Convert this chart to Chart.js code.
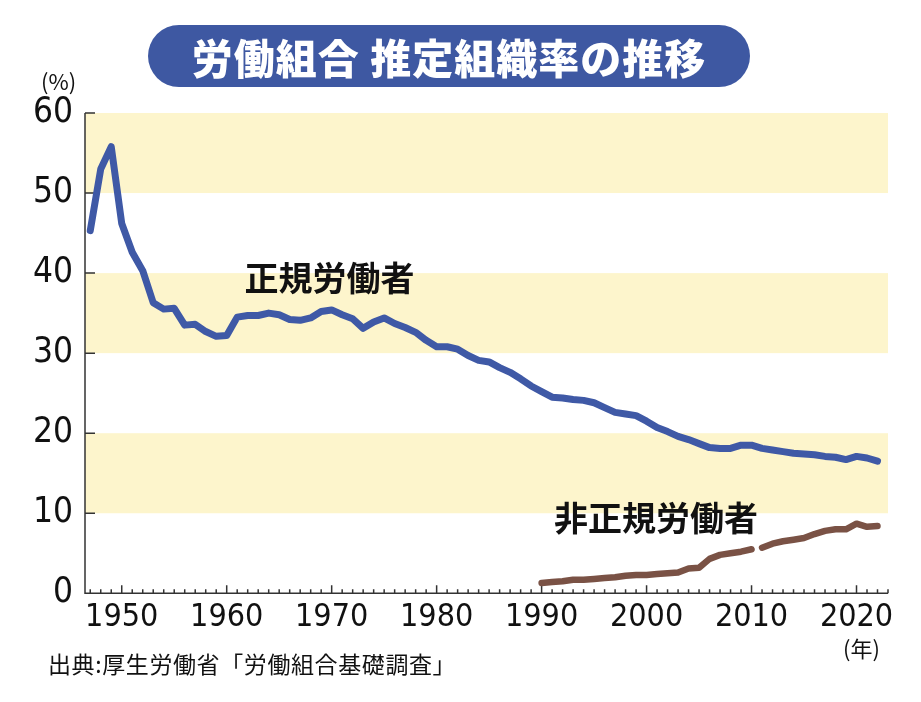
<!DOCTYPE html>
<html lang="ja">
<head>
<meta charset="utf-8">
<script src="https://cdn.jsdelivr.net/npm/chart.js@4/dist/chart.umd.min.js"></script>
<style>
  html, body { margin: 0; padding: 0; background: #fff; }
  #wrap { position: relative; width: 921px; height: 702px; overflow: hidden; }
  #title {
    position: absolute; left: 148px; top: 25px; width: 602px; height: 62px;
    border-radius: 31px; background: #3e58a2; color: #fff;
    font: 900 41px "Noto Sans CJK JP", sans-serif; line-height: 62px; text-align: center;
    letter-spacing: 1px;
  }
  .note { position: absolute; color: #111; font-family: "Noto Sans CJK JP", sans-serif; }
  #pct { left: 41px; top: 64px; font-size: 22px; }
  #nen { left: 843px; top: 631px; font-size: 22px; }
  #src { left: 48px; top: 646px; font-size: 23px; letter-spacing: 0.6px; }
</style>
</head>
<body>
<div id="wrap">
  <canvas id="chart" width="921" height="702"></canvas>
  <div id="title">労働組合 推定組織率の推移</div>
  <div class="note" id="pct">(%)</div>
  <div class="note" id="nen">(年)</div>
  <div class="note" id="src">出典:厚生労働省「労働組合基礎調査」</div>
</div>
<script>
// 正規労働者 (all workers) 1947-2022
const regularYears = [];
for (let y = 1947; y <= 2022; y++) regularYears.push(y);
const regularRate = [
  45.3, 53.0, 55.8, 46.2, 42.6, 40.3, 36.3, 35.5, 35.6, 33.5,
  33.6, 32.7, 32.1, 32.2, 34.5, 34.7, 34.7, 35.0, 34.8, 34.2,
  34.1, 34.4, 35.2, 35.4, 34.8, 34.3, 33.1, 33.9, 34.4, 33.7,
  33.2, 32.6, 31.6, 30.8, 30.8, 30.5, 29.7, 29.1, 28.9, 28.2,
  27.6, 26.8, 25.9, 25.2, 24.5, 24.4, 24.2, 24.1, 23.8, 23.2,
  22.6, 22.4, 22.2, 21.5, 20.7, 20.2, 19.6, 19.2, 18.7, 18.2,
  18.1, 18.1, 18.5, 18.5, 18.1, 17.9, 17.7, 17.5, 17.4, 17.3,
  17.1, 17.0, 16.7, 17.1, 16.9, 16.5
];

// 非正規労働者 1990-2022
const partYears = [];
for (let y = 1990; y <= 2022; y++) partYears.push(y);
const partRate = [
  1.3, 1.4, 1.5, 1.7, 1.7, 1.8, 1.9, 2.0, 2.2, 2.3,
  2.3, 2.4, 2.5, 2.6, 3.1, 3.2, 4.3, 4.8, 5.0, 5.2,
  5.5, 5.7, 6.2, 6.5, 6.7, 6.9, 7.4, 7.8, 8.0, 8.0,
  8.7, 8.3, 8.4
];
const partBreakAfter = [2010];

const decadeTicks = [1950, 1960, 1970, 1980, 1990, 2000, 2010, 2020];
const yTicks = [0, 10, 20, 30, 40, 50, 60];
const bands = [[50, 60], [30, 40], [10, 20]];

const seriesLabels = [
  { text: "正規労働者", x: 1969.8, y: 39.4 },
  { text: "非正規労働者", x: 2000.9, y: 9.4 }
];

const numFont = '"Liberation Sans Narrow", "DejaVu Sans Condensed", sans-serif';

const decor = {
  id: "decor",
  beforeDatasetsDraw(chart) {
    const { ctx, chartArea: a, scales: { x, y } } = chart;
    ctx.save();
    ctx.fillStyle = "#fdf5cc";
    bands.forEach(([lo, hi]) => {
      const t = y.getPixelForValue(hi), b = y.getPixelForValue(lo);
      ctx.fillRect(a.left, t, a.right - a.left, b - t);
    });
    ctx.strokeStyle = "#333";
    ctx.lineWidth = 1.5;
    ctx.beginPath();
    ctx.moveTo(a.left, y.getPixelForValue(60));
    ctx.lineTo(a.left, a.bottom);
    ctx.lineTo(a.right, a.bottom);
    yTicks.forEach(v => {
      if (v === 0) return;
      const py = y.getPixelForValue(v);
      ctx.moveTo(a.left, py);
      ctx.lineTo(a.left + 10, py);
    });
    for (let yr = 1947; yr <= 2023; yr++) {
      const px = x.getPixelForValue(yr);
      const len = yr % 10 === 0 ? 8 : 4;
      ctx.moveTo(px, a.bottom);
      ctx.lineTo(px, a.bottom - len);
    }
    ctx.stroke();
    ctx.restore();
  },
  afterDatasetsDraw(chart) {
    const { ctx, scales: { x, y } } = chart;
    ctx.save();
    ctx.fillStyle = "#111";
    ctx.font = 'bold 34px "Noto Sans CJK JP", sans-serif';
    ctx.textAlign = "center";
    ctx.textBaseline = "middle";
    seriesLabels.forEach(l => ctx.fillText(l.text, x.getPixelForValue(l.x), y.getPixelForValue(l.y)));
    ctx.restore();
  }
};

new Chart(document.getElementById("chart"), {
  type: "line",
  data: {
    datasets: [
      {
        label: "正規労働者",
        data: regularYears.map((yr, i) => ({ x: yr, y: regularRate[i] })),
        borderColor: "#3f59a6",
        borderWidth: 7,
        pointRadius: 0,
        borderJoinStyle: "round",
        borderCapStyle: "round",
        tension: 0
      },
      {
        label: "非正規労働者",
        data: partYears.map((yr, i) => ({ x: yr, y: partRate[i] })),
        borderColor: "#7a5245",
        borderWidth: 6.5,
        pointRadius: 0,
        borderJoinStyle: "round",
        borderCapStyle: "round",
        tension: 0,
        segment: {
          borderColor: c => partBreakAfter.includes(partYears[c.p0DataIndex]) ? "rgba(0,0,0,0)" : undefined
        }
      }
    ]
  },
  options: {
    responsive: false,
    animation: false,
    layout: { padding: { top: 113, right: 33, left: 0, bottom: 0 } },
    plugins: { legend: { display: false }, tooltip: { enabled: false } },
    scales: {
      x: {
        type: "linear",
        min: 1946.5,
        max: 2023,
        afterBuildTicks: s => { s.ticks = decadeTicks.map(v => ({ value: v })); },
        afterFit: s => { s.height = 108.7; },
        grid: { display: false, drawTicks: false },
        border: { display: false },
        ticks: {
          padding: 5,
          color: "#111",
          font: { family: numFont, size: 32 },
          maxRotation: 0,
          callback: v => String(v)
        }
      },
      y: {
        min: 0,
        max: 60,
        afterBuildTicks: s => { s.ticks = yTicks.map(v => ({ value: v })); },
        afterFit: s => { s.width = 85; },
        grid: { display: false, drawTicks: false },
        border: { display: false },
        ticks: {
          padding: 12,
          color: "#111",
          font: { family: numFont, size: 35 }
        }
      }
    }
  },
  plugins: [decor]
});
</script>
</body>
</html>
